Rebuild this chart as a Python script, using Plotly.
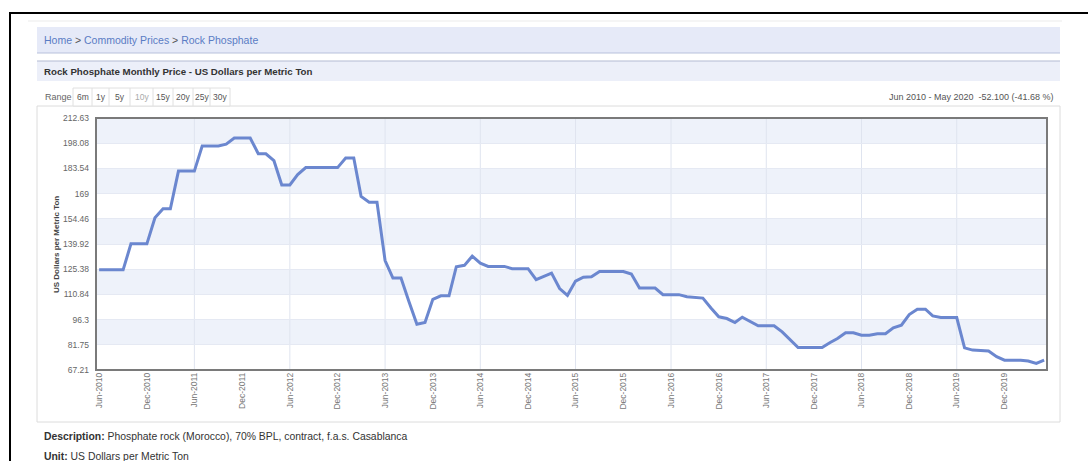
import pandas as pd
import plotly.graph_objects as go

# monthly price, Jun 2010 - May 2020 (US$ per metric ton)
months = pd.date_range("2010-06-01", periods=120, freq="MS")
prices = [
    125, 125, 125, 125, 140, 140, 140, 155, 160.2, 160.2, 182, 182,
    182, 196.5, 196.5, 196.5, 197.5, 201.1, 201.1, 201.1, 192, 192, 188, 174,
    174, 180, 184, 184, 184, 184, 184, 189.5, 189.5, 167.4, 164, 164,
    130.4, 120.3, 120.3, 106.5, 93.6, 94.6, 108, 110, 110, 126.8, 127.6, 132.9,
    128.9, 127, 127, 127, 125.7, 125.7, 125.7, 119.3, 121.2, 123.1, 114.2, 110.3,
    118.5, 120.8, 121, 124.1, 124.1, 124, 124, 122.6, 114.5, 114.5, 114.5, 110.7,
    110.7, 110.7, 109.5, 109, 108.7, 103, 97.9, 96.9, 94.6, 97.7, 95.4, 92.7,
    92.7, 92.7, 89.2, 84.7, 80.2, 80.2, 80.2, 80.2, 83.1, 85.4, 88.7, 88.7,
    87.3, 87.3, 88.1, 88.1, 91.5, 93.1, 99.2, 102.3, 102.3, 98.4, 97.5, 97.5,
    97.5, 80, 78.7, 78.5, 78.2, 74.9, 72.9, 72.9, 72.9, 72.4, 71.0, 72.9,
]

y_ticks = [67.21, 81.75, 96.3, 110.84, 125.38, 139.92, 154.46, 169, 183.54, 198.08, 212.63]
y_ticktext = ["67.21", "81.75", "96.3", "110.84", "125.38", "139.92", "154.46", "169", "183.54", "198.08", "212.63"]
x_ticks = pd.date_range("2010-06-01", "2019-12-01", freq="6MS")
x_ticktext = [d.strftime("%b-%Y") for d in x_ticks]
grid_years = pd.date_range("2010-06-01", "2019-06-01", freq="12MS")
range_buttons = ["6m", "1y", "5y", "10y", "15y", "20y", "25y", "30y"]

W, H = 1088, 461
L, R, T, B = 96, 1047, 118, 370
FONT = "Liberation Sans, Arial, sans-serif"


def px(x):
    return (x - L) / (R - L)


def py(y):
    return (B - y) / (B - T)


fig = go.Figure()
fig.add_trace(go.Scatter(x=months, y=prices, mode="lines",
                         line=dict(color="#6b87cf", width=3), hoverinfo="x+y"))

shapes = []
# alternating bands
for i in range(0, len(y_ticks) - 1):
    if i % 2 == 1:
        shapes.append(dict(type="rect", xref="paper", yref="y", x0=0, x1=1,
                           y0=y_ticks[i], y1=y_ticks[i + 1], layer="below",
                           fillcolor="#eef2fa", line_width=0))
for d in grid_years[1:]:
    shapes.append(dict(type="line", xref="x", yref="paper", x0=d, x1=d, y0=0, y1=1,
                       layer="below", line=dict(color="#dfe4ef", width=1)))

def prect(x0, y0, x1, y1, **kw):
    shapes.append(dict(type="rect", xref="paper", yref="paper",
                       x0=px(x0), x1=px(x1), y0=py(y1), y1=py(y0), **kw))

def pline(x0, y0, x1, y1, color, width=1):
    shapes.append(dict(type="line", xref="paper", yref="paper",
                       x0=px(x0), x1=px(x1), y0=py(y0), y1=py(y1),
                       line=dict(color=color, width=width)))

# page furniture
pline(9, 13, 1088, 13, "#000000", 2)
pline(10, 13, 10, 461, "#000000", 2)
pline(28, 21, 1062, 21, "#ebebeb")
prect(37, 27, 1060, 53, fillcolor="#e6eaf8", line_width=0)
pline(37, 53, 1060, 53, "#b8c1dc")
prect(37, 61, 1060, 81, fillcolor="#eceff9", line_width=0)
pline(37, 61, 1060, 61, "#b3bbd3")
prect(37, 106, 1060, 422, line=dict(color="#dcdcdc", width=1))
# range buttons
dividers = [73, 92, 109, 130, 153, 173, 193, 210, 230]
prect(73, 88, 230, 106, fillcolor="white", line=dict(color="#e0e0e0", width=1))
for x in dividers[1:-1]:
    pline(x, 88, x, 106, "#e0e0e0")
# plot frame
prect(L, T, R, B, line=dict(color="#7a7a7a", width=2))

annotations = []

def ptext(x, y, text, size, color, xanchor="left", **kw):
    annotations.append(dict(xref="paper", yref="paper", x=px(x), y=py(y), text=text,
                            showarrow=False, xanchor=xanchor, yanchor="middle",
                            font=dict(family=FONT, size=size, color=color), **kw))

link = "#5a7cc4"
sep = "#555555"
ptext(42, 40, f'<span style="color:{link}">Home</span> <span style="color:{sep}">></span> '
              f'<span style="color:{link}">Commodity Prices</span> <span style="color:{sep}">></span> '
              f'<span style="color:{link}">Rock Phosphate</span>', 10.5, link)
ptext(42, 71, "<b>Rock Phosphate Monthly Price - US Dollars per Metric Ton</b>", 9.7, "#333333")
ptext(43, 97, "Range", 9, "#666666")
for lab, a, b in zip(range_buttons, dividers[:-1], dividers[1:]):
    ptext((a + b) / 2, 97, lab, 8.5, "#aaaaaa" if lab == "10y" else "#555555", xanchor="center")
ptext(1056, 97, "Jun 2010 - May 2020  -52.100 (-41.68 %)", 9, "#555555", xanchor="right")
ptext(56, 245, "<b>US Dollars per Metric Ton</b>", 8, "#444444", xanchor="center", textangle=-90)
ptext(42, 436, "<b>Description:</b> Phosphate rock (Morocco), 70% BPL, contract, f.a.s. Casablanca", 10.4, "#333333")
ptext(42, 456, "<b>Unit:</b> US Dollars per Metric Ton", 10.4, "#333333")

fig.update_layout(
    width=W, height=H,
    margin=dict(l=L, r=W - R, t=T, b=H - B, pad=0),
    paper_bgcolor="white", plot_bgcolor="white",
    showlegend=False,
    shapes=shapes, annotations=annotations,
    font=dict(family=FONT),
    xaxis=dict(range=["2010-05-20", "2020-05-12"], tickvals=x_ticks, ticktext=x_ticktext,
               tickangle=-90, showgrid=False, zeroline=False, showline=False,
               tickfont=dict(size=8.5, color="#777777")),
    yaxis=dict(range=[67.21, 212.63], tickvals=y_ticks, ticktext=y_ticktext,
               showgrid=True, gridcolor="#e5e9f3", zeroline=False, showline=False,
               ticklabelstandoff=6, tickfont=dict(size=8.5, color="#666666")),
)

fig.write_html("out.html", config={"displayModeBar": False},
               post_script="document.body.style.margin='0';")
